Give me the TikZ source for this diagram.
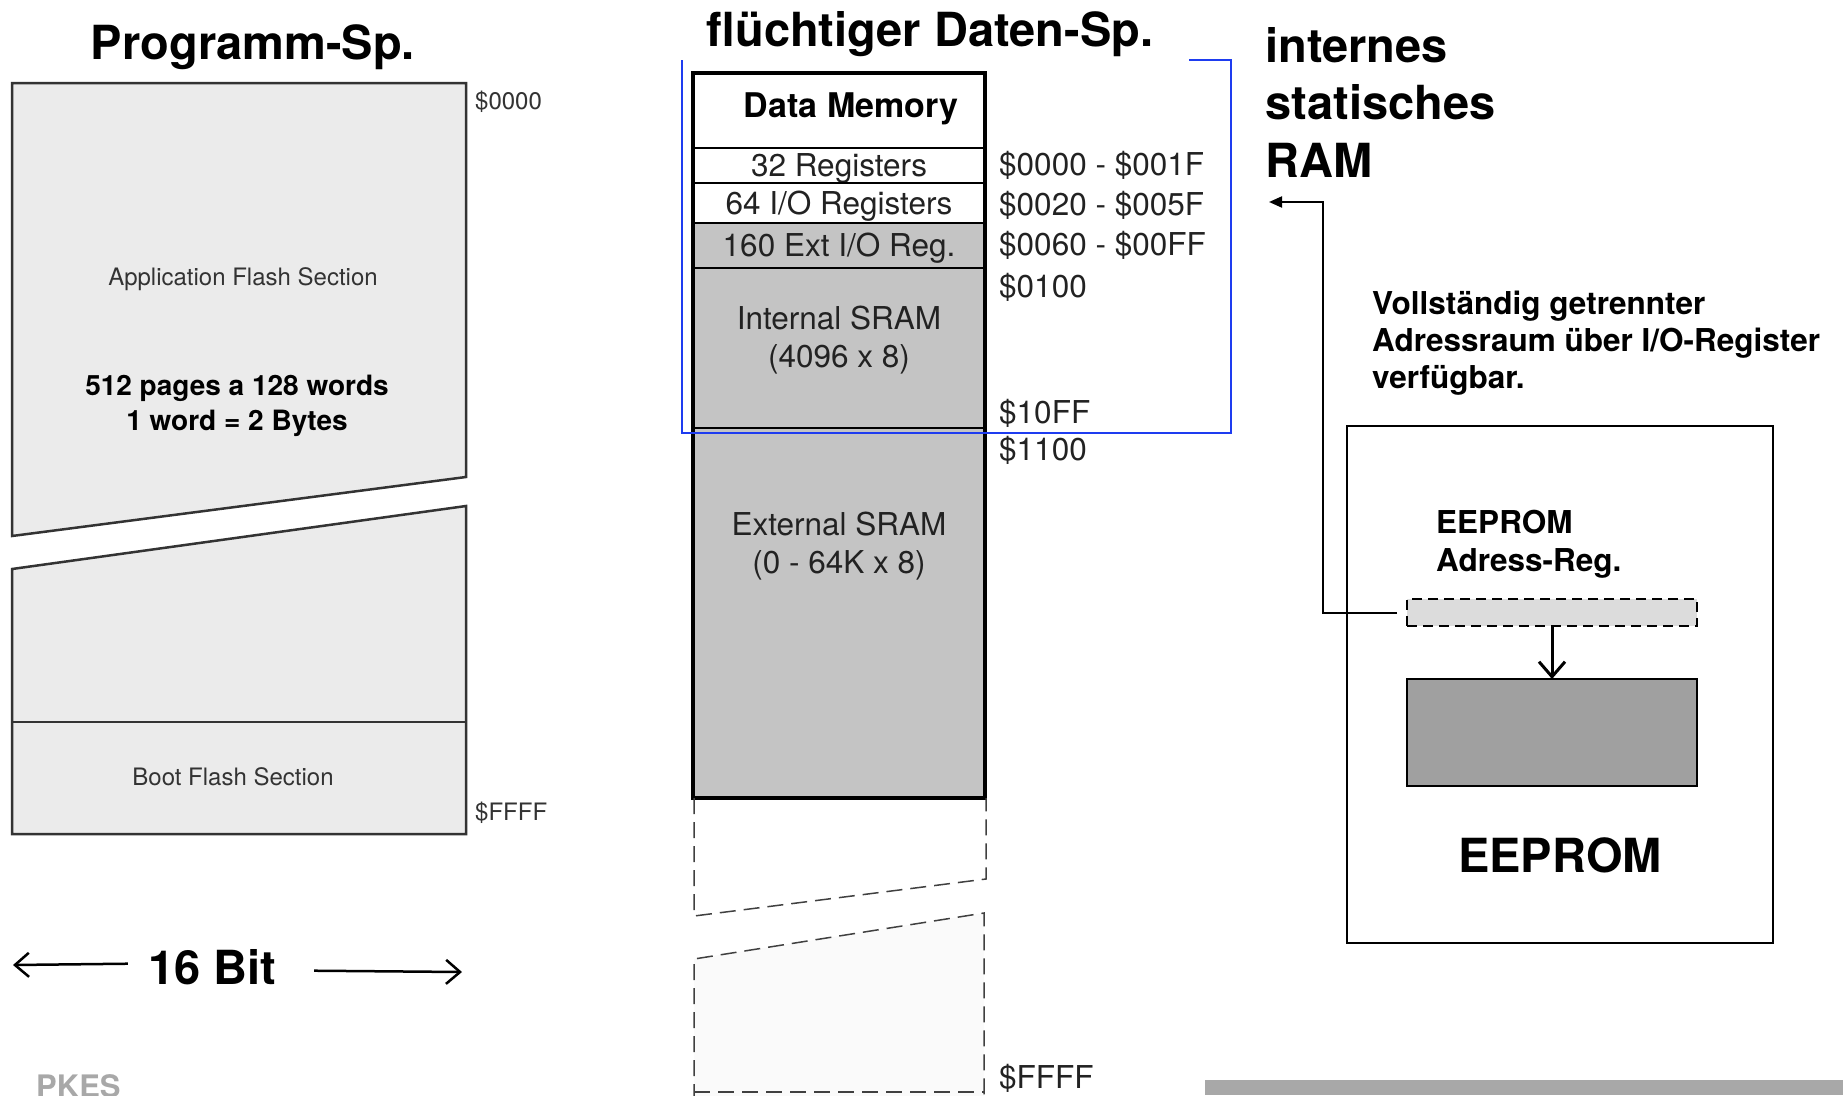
\documentclass[tikz,border=0pt]{standalone}
\usepackage{fontspec}
\setmainfont{TeX Gyre Heros}
\usepackage{tikz}
\usetikzlibrary{arrows.meta,positioning}

\definecolor{flashgray}{RGB}{235,235,235}
\definecolor{sramgray}{RGB}{196,196,196}
\definecolor{regfill}{RGB}{220,220,220}
\definecolor{eemgray}{RGB}{160,160,160}
\definecolor{ghostfill}{RGB}{250,250,250}
\definecolor{frameblue}{RGB}{30,60,240}
\definecolor{labelgray}{RGB}{51,51,51}
\definecolor{memtext}{RGB}{34,34,34}
\definecolor{footgray}{RGB}{168,168,168}

\tikzset{
  title/.style={font=\fontsize{47}{57.5}\selectfont\bfseries, inner sep=0pt},
  note/.style={font=\fontsize{31.5}{37}\selectfont\bfseries, inner sep=0pt, align=left},
  flash/.style={draw=labelgray, line width=2.5pt, fill=flashgray},
  flashtext/.style={font=\fontsize{24}{28}\selectfont, text=labelgray, inner sep=0pt},
  memrow/.style={draw=black, line width=2pt, minimum width=292pt, inner sep=0pt, outer sep=0pt,
    text height=22pt, text depth=0pt, font=\fontsize{31.5}{37.5}\selectfont, text=memtext},
  memlabel/.style={font=\fontsize{31.5}{37.5}\selectfont, text=memtext, inner sep=0pt, align=center},
  addr/.style={font=\fontsize{31.5}{36}\selectfont, text=memtext, inner sep=0pt, anchor=west},
  ghost/.style={draw=black!75, line width=1.5pt, dash pattern=on 16pt off 8pt},
  bitarrow/.style={line width=2.5pt, -{Straight Barb[length=14pt,width=24pt]}},
  link/.style={line width=2pt, -{Triangle[length=13pt,width=11pt]}}
}

\begin{document}
\begin{tikzpicture}[x=1pt, y=-1pt]
\useasboundingbox (0,0) rectangle (1843,1095);

% Programm-Speicher
\node[title, anchor=base] (progtitle) at (253,59) {Programm-Sp.};
\filldraw[flash] (12,83) -- (466,83) -- (466,477) -- (12,536) -- cycle;
\filldraw[flash] (12,569) -- (466,506) -- (466,834) -- (12,834) -- cycle;
\draw[flash] (12,722) -- (466,722);
\node[flashtext] (appflash) at (243,279) {Application Flash Section};
\node[font=\fontsize{28}{35}\selectfont\bfseries, inner sep=0pt, align=center] (pages) at (237,406)
  {512 pages a 128 words\\1 word = 2 Bytes};
\node[flashtext] (bootflash) at (233,777) {Boot Flash Section};
\node[flashtext, anchor=west] (pstart) at (475,102) {\$0000};
\node[flashtext, anchor=west] (pend) at (475,813) {\$FFFF};

% Wortbreite
\node[title, anchor=base] (bits) at (212,984) {16 Bit};
\coordinate (bitl) at (13,965);
\coordinate (bitr) at (462,972);
\draw[bitarrow] ([xshift=-20pt,yshift=3pt]bits.west) -- (bitl);
\draw[bitarrow] ([xshift=38pt,yshift=-4pt]bits.east) -- (bitr);

% Daten-Speicher
\node[title, anchor=base] (datatitle) at (930,46) {flüchtiger Daten-Sp.};
\node[memrow, fill=white, minimum height=75pt, line width=3pt] (hdr) at (839,110.5) {};
\node[font=\fontsize{34}{40}\selectfont\bfseries, inner sep=0pt] (hdrtxt) at (851,109) {Data Memory};
\node[memrow, fill=white, minimum height=35pt, below=0pt of hdr] (regs) {32 Registers};
\node[memrow, fill=white, minimum height=40pt, below=0pt of regs] (io) {64 I/O Registers};
\node[memrow, fill=sramgray, minimum height=45pt, below=0pt of io] (extio) {160 Ext I/O Reg.};
\node[memrow, fill=sramgray, minimum height=160pt, below=0pt of extio] (isram) {};
\node[memrow, fill=sramgray, minimum height=370pt, below=0pt of isram] (esram) {};
\draw[line width=4.5pt] (hdr.north west) rectangle (esram.south east);
\node[memlabel] (isramtxt) at ([yshift=8pt]isram.center) {Internal SRAM\\(4096 x 8)};
\node[memlabel] (esramtxt) at ([yshift=-118pt]esram.north) {External SRAM\\(0 - 64K x 8)};

% ausgeblendeter Bereich
\draw[ghost] (694,798) -- (694,916) -- (986,879) -- (986,798);
\fill[ghostfill] (694,1100) -- (694,959) -- (984,913) -- (984,1100) -- cycle;
\draw[ghost] (694,1100) -- (694,959) -- (984,913) -- (984,1100);
\draw[ghost] (694,1092) -- (984,1092);

% Adressen
\node[addr] (a0) at (999,165) {\$0000 - \$001F};
\node[addr] (a1) at (999,205) {\$0020 - \$005F};
\node[addr] (a2) at (999,245) {\$0060 - \$00FF};
\node[addr] (a3) at (999,287) {\$0100};
\node[addr] (a4) at (999,413) {\$10FF};
\node[addr] (a5) at (999,450) {\$1100};
\node[addr] (a6) at (999,1078) {\$FFFF};

% internes SRAM
\draw[frameblue, line width=2pt] (1189,60) -- (1231,60) -- (1231,433) -- (682,433) -- (682,60);
\node[title, anchor=base west, align=left] (sramtitle) at (1265,177) {internes\\statisches\\RAM};

% EEPROM
\node[note, anchor=base west] (sepnote) at (1372,388)
  {Vollständig getrennter\\Adressraum über I/O-Register\\verfügbar.};
\node[draw, line width=2.5pt, minimum width=426pt, minimum height=517pt, inner sep=0pt, outer sep=0pt] (eebox) at (1560,684.5) {};
\node[note, anchor=base west, font=\fontsize{31.5}{38}\selectfont\bfseries] (regtxt) at (1436,571) {EEPROM\\Adress-Reg.};
\node[draw, line width=2pt, dash pattern=on 10pt off 6pt, fill=regfill, minimum width=290pt, minimum height=27pt, inner sep=0pt, outer sep=0pt] (adrreg) at (1552,612.5) {};
\node[draw, line width=2pt, fill=eemgray, minimum width=290pt, minimum height=107pt, inner sep=0pt, outer sep=0pt] (eemem) at (1552,732.5) {};
\draw[line width=3pt, -{Straight Barb[length=15pt,width=26pt]}] (adrreg) -- (eemem);
\node[title, anchor=base] (eetxt) at (1560,872) {EEPROM};
\coordinate (ramturn) at (1323,202);
\coordinate (ramtip) at (1269,202);
\draw[link] ([xshift=-10pt]adrreg.west) -| (ramturn) -- (ramtip);

% Fusszeile
\node[font=\fontsize{31}{36}\selectfont\bfseries, text=footgray, anchor=base west, inner sep=0pt] (pkes) at (36,1097) {PKES};
\fill[footgray] (1205,1080) rectangle (1843,1095);
\end{tikzpicture}
\end{document}
